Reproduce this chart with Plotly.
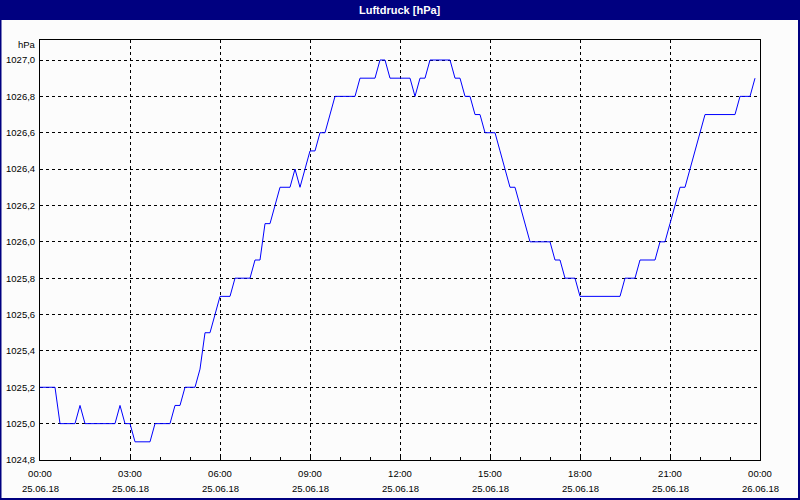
import pandas as pd
import plotly.graph_objects as go

# ---- data -------------------------------------------------------------
start_time = "2018-06-25 00:00"
sample_interval = "10min"
pressure_hpa = [
    1025.2, 1025.2, 1025.2, 1025.2, 1025.0, 1025.0, 1025.0, 1025.0, 1025.1, 1025.0,
    1025.0, 1025.0, 1025.0, 1025.0, 1025.0, 1025.0, 1025.1, 1025.0, 1025.0, 1024.9,
    1024.9, 1024.9, 1024.9, 1025.0, 1025.0, 1025.0, 1025.0, 1025.1, 1025.1, 1025.2,
    1025.2, 1025.2, 1025.3, 1025.5, 1025.5, 1025.6, 1025.7, 1025.7, 1025.7, 1025.8,
    1025.8, 1025.8, 1025.8, 1025.9, 1025.9, 1026.1, 1026.1, 1026.2, 1026.3, 1026.3,
    1026.3, 1026.4, 1026.3, 1026.4, 1026.5, 1026.5, 1026.6, 1026.6, 1026.7, 1026.8,
    1026.8, 1026.8, 1026.8, 1026.8, 1026.9, 1026.9, 1026.9, 1026.9, 1027.0, 1027.0,
    1026.9, 1026.9, 1026.9, 1026.9, 1026.9, 1026.8, 1026.9, 1026.9, 1027.0, 1027.0,
    1027.0, 1027.0, 1027.0, 1026.9, 1026.9, 1026.8, 1026.8, 1026.7, 1026.7, 1026.6,
    1026.6, 1026.6, 1026.5, 1026.4, 1026.3, 1026.3, 1026.2, 1026.1, 1026.0, 1026.0,
    1026.0, 1026.0, 1026.0, 1025.9, 1025.9, 1025.8, 1025.8, 1025.8, 1025.7, 1025.7,
    1025.7, 1025.7, 1025.7, 1025.7, 1025.7, 1025.7, 1025.7, 1025.8, 1025.8, 1025.8,
    1025.9, 1025.9, 1025.9, 1025.9, 1026.0, 1026.0, 1026.1, 1026.2, 1026.3, 1026.3,
    1026.4, 1026.5, 1026.6, 1026.7, 1026.7, 1026.7, 1026.7, 1026.7, 1026.7, 1026.7,
    1026.8, 1026.8, 1026.8, 1026.9,
]
times = pd.date_range(start_time, periods=len(pressure_hpa), freq=sample_interval)

x_tick_values = [
    "2018-06-25 00:00", "2018-06-25 03:00", "2018-06-25 06:00",
    "2018-06-25 09:00", "2018-06-25 12:00", "2018-06-25 15:00",
    "2018-06-25 18:00", "2018-06-25 21:00", "2018-06-26 00:00",
]
x_tick_times = ["00:00", "03:00", "06:00", "09:00", "12:00",
                "15:00", "18:00", "21:00", "00:00"]
x_tick_dates = ["25.06.18", "25.06.18", "25.06.18", "25.06.18", "25.06.18",
                "25.06.18", "25.06.18", "25.06.18", "26.06.18"]
y_tick_values = [1024.8, 1025.0, 1025.2, 1025.4, 1025.6,
                 1025.8, 1026.0, 1026.2, 1026.4, 1026.6, 1026.8, 1027.0]
y_tick_labels = ["1024,8", "1025,0", "1025,2", "1025,4", "1025,6",
                 "1025,8", "1026,0", "1026,2", "1026,4", "1026,6", "1026,8", "1027,0"]
title_text = "Luftdruck [hPa]"
unit_text = "hPa"

# ---- layout geometry ---------------------------------------------------
W, H = 800, 500
ML, MR, MT, MB = 40, 40, 40, 40
PW, PH = W - ML - MR, H - MT - MB


def px_x(px):
    return (px - ML) / PW


def px_y(py):
    return (H - MB - py) / PH


NAVY = "#000080"
FONT = "Liberation Sans"
BG = "#FCFCFC"

fig = go.Figure()
fig.add_trace(go.Scatter(
    x=times, y=pressure_hpa, mode="lines",
    line=dict(color="#0000FF", width=1),
    hoverinfo="skip", showlegend=False,
))

annotations = [
    dict(text=f"<b>{title_text}</b>", xref="paper", yref="paper",
         x=0.5, y=px_y(10), xanchor="center", yanchor="middle",
         showarrow=False, font=dict(family=FONT, size=11, color="white")),
    dict(text=unit_text, xref="paper", yref="paper",
         x=px_x(38), y=px_y(45), xanchor="right", yanchor="middle",
         showarrow=False, font=dict(family=FONT, size=9.5, color="black")),
]
for tv, d in zip(x_tick_values, x_tick_dates):
    annotations.append(dict(
        text=d, xref="x", yref="paper", x=tv, y=px_y(488.5),
        xanchor="center", yanchor="middle", showarrow=False,
        font=dict(family=FONT, size=9.5, color="black")))

shapes = [
    dict(type="rect", xref="paper", yref="paper",
         x0=px_x(0), x1=px_x(W), y0=px_y(20), y1=px_y(0),
         fillcolor=NAVY, line=dict(width=0), layer="below"),
    dict(type="rect", xref="paper", yref="paper",
         x0=px_x(0.5), x1=px_x(W - 1), y0=px_y(H - 1), y1=px_y(0.5),
         fillcolor="rgba(0,0,0,0)", line=dict(color=NAVY, width=2)),
]

fig.update_layout(
    width=W, height=H,
    margin=dict(l=ML, r=MR, t=MT, b=MB, pad=0, autoexpand=False),
    paper_bgcolor=BG, plot_bgcolor=BG,
    font=dict(family=FONT, size=9.5, color="black"),
    annotations=annotations, shapes=shapes,
    showlegend=False,
)
fig.update_xaxes(
    range=["2018-06-25 00:00", "2018-06-26 00:00"],
    tickmode="array", tickvals=x_tick_values, ticktext=x_tick_times,
    showgrid=True, gridcolor="black", gridwidth=1, griddash="3px,3px",
    showline=True, linecolor="black", linewidth=1, mirror=True,
    ticks="inside", ticklen=3, tickcolor="black", ticklabelstandoff=5,
    minor=dict(dtick=3600000, ticks="inside", ticklen=3,
               tickcolor="black", showgrid=False),
    zeroline=False, fixedrange=True, automargin=False,
)
fig.update_yaxes(
    range=[1024.8, 1027.11],
    tickmode="array", tickvals=y_tick_values, ticktext=y_tick_labels,
    showgrid=True, gridcolor="black", gridwidth=1, griddash="3px,3px",
    showline=True, linecolor="black", linewidth=1, mirror=True,
    ticks="", ticklabelstandoff=2,
    zeroline=False, fixedrange=True, automargin=False,
)

fig.write_html(
    "out.html",
    config={"displayModeBar": False},
    post_script="document.body.style.margin='0';document.body.style.overflow='hidden';",
)
